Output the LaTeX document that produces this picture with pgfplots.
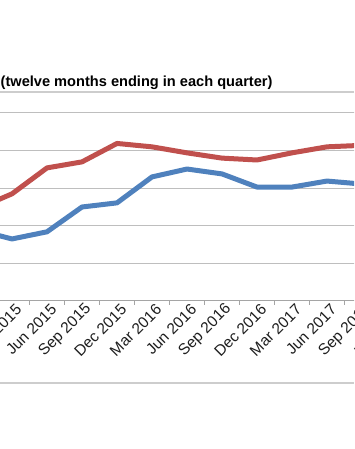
\documentclass[border=0pt]{standalone}
\usepackage{pgfplots}
\pgfplotsset{compat=1.18}
\usepackage{fontspec}
\setmainfont{Liberation Sans}
\definecolor{xred}{RGB}{192,80,77}
\definecolor{xblue}{RGB}{79,129,189}
\definecolor{gridg}{RGB}{190,190,190}
\definecolor{axg}{RGB}{165,165,165}
\definecolor{sepg}{RGB}{205,205,205}
\definecolor{txt}{RGB}{30,30,30}
\begin{document}
\begin{tikzpicture}
\path[use as bounding box] (0,0) rectangle (354pt,449pt);
\clip (0,0) rectangle (354pt,449pt);
\node[anchor=west, inner sep=0pt, font=\fontsize{14.6}{16}\selectfont\bfseries, text=black] at (0.5pt,366pt) {(twelve months ending in each quarter)};
\draw[sepg, line width=1.5pt] (0,357pt) -- (354pt,357pt);
\draw[sepg, line width=2pt] (0,66pt) -- (354pt,66pt);
\begin{axis}[
  at={(-40.5pt,148pt)}, anchor=south west,
  scale only axis, width=455pt, height=188pt,
  xmin=-1.5, xmax=11.5, ymin=0, ymax=5,
  axis x line=bottom, axis y line=left,
  axis line style={axg, line width=1pt, -},
  xtick={-1,0,...,11},
  xticklabels={Dec 2014,Mar 2015,Jun 2015,Sep 2015,Dec 2015,Mar 2016,Jun 2016,Sep 2016,Dec 2016,Mar 2017,Jun 2017,Sep 2017,Dec 2017},
  major tick length=0pt,
  minor xtick={-1.5,-0.5,...,11.5},
  minor tick length=4pt,
  tick align=outside,
  minor tick style={axg, line width=1pt},
  xticklabel style={rotate=45, anchor=east, yshift=-9pt, xshift=4pt, font=\fontsize{15.5}{17}\selectfont, text=txt},
  ytick={1,2,3,4,5}, yticklabels={},
  ymajorgrids, grid style={gridg, line width=1pt},
  clip=true,
]
\addplot[xblue, line width=5pt, line join=round] coordinates {
(-1,1.89) (0,1.65) (1,1.84) (2,2.50) (3,2.61) (4,3.30) (5,3.51) (6,3.38) (7,3.03) (8,3.03) (9,3.19) (10,3.11)};
\addplot[xred, line width=5pt, line join=round] coordinates {
(-1,2.45) (0,2.85) (1,3.54) (2,3.70) (3,4.19) (4,4.10) (5,3.94) (6,3.80) (7,3.75) (8,3.94) (9,4.10) (10,4.14)};
\end{axis}
\end{tikzpicture}
\end{document}
